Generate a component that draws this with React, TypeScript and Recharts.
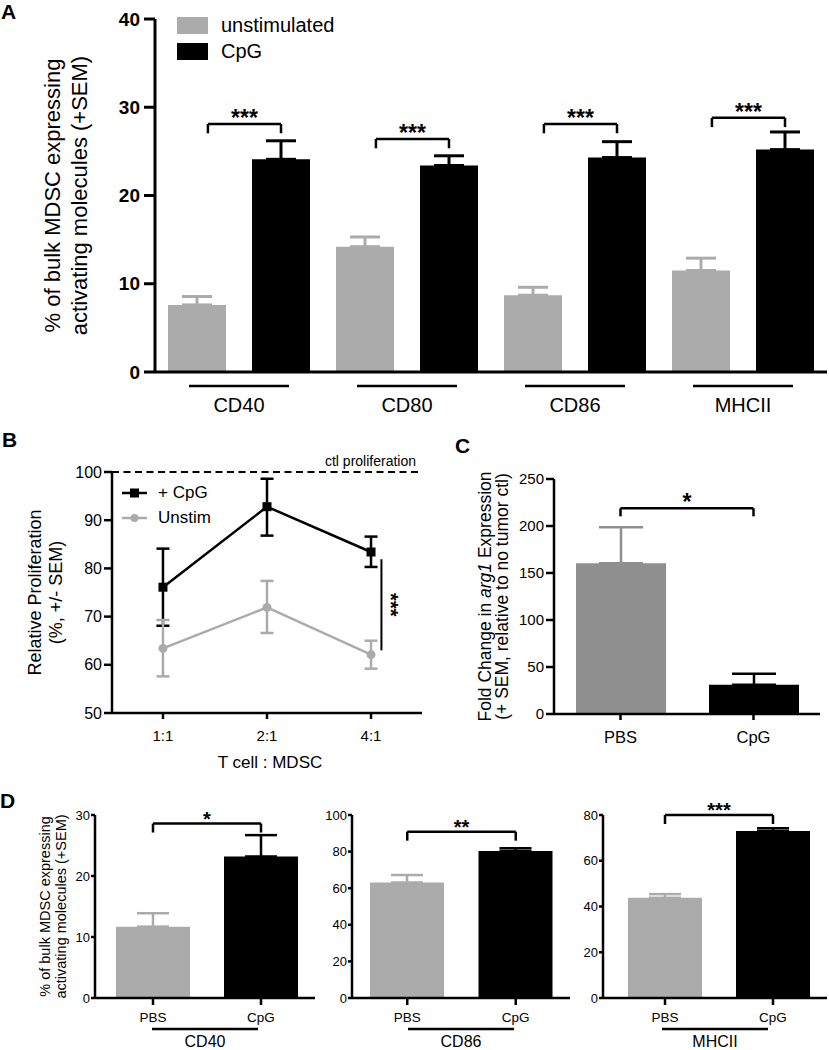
import React from 'react';
import { BarChart, Bar, LineChart, Line, XAxis, YAxis, ErrorBar, ReferenceLine, Legend } from 'recharts';

const FONT = "'Liberation Sans', Arial, Helvetica, sans-serif";
const LIGHT = '#ababab';
const MID = '#8f8f8f';
const INK = '#000000';

// A : activation markers on bulk MDSC, unstimulated vs CpG
const markersA = ['CD40', 'CD80', 'CD86', 'MHCII'];
const unstimA = [7.6, 14.2, 8.7, 11.5];
const unstimSemA = [0.95, 1.1, 0.9, 1.4];
const cpgA = [24.1, 23.4, 24.3, 25.2];
const cpgSemA = [2.1, 1.1, 1.8, 2.0];
const starsA = ['***', '***', '***', '***'];
const bracketA = [28.1, 26.4, 28.1, 28.8];

// B : relative T cell proliferation
const ratiosB = ['1:1', '2:1', '4:1'];
const cpgB = [76.1, 92.8, 83.4];
const cpgLoB = [8.0, 6.0, 3.1];
const cpgHiB = [8.0, 5.8, 3.2];
const unstimB = [63.4, 71.9, 62.1];
const unstimLoB = [5.8, 5.3, 2.9];
const unstimHiB = [5.9, 5.5, 2.9];
const ctlB = 100;
const sigB = [63.0, 81.9];

// C : arg1 fold change
const groupsC = ['PBS', 'CpG'];
const arg1C = [160.4, 31.2];
const arg1SemC = [38.3, 11.6];
const bracketC = 218.8;

// D : in vivo activation markers
const markersD = ['CD40', 'CD86', 'MHCII'];
const pbsD = [11.7, 63.1, 43.8];
const pbsSemD = [2.2, 4.1, 1.6];
const cpgD = [23.2, 80.3, 73.0];
const cpgSemD = [3.5, 1.5, 1.2];
const maxD = [30, 100, 80];
const stepD = [10, 20, 20];
const starsD = ['*', '**', '***'];
const bracketD = [28.6, 90.9, 80];

const range = (max: number, step: number) => {
  const out: number[] = [];
  for (let v = 0; v <= max + 1e-9; v += step) out.push(v);
  return out;
};

const dataA = markersA.flatMap((m, i) => [
  { pos: 2 * i, unstim: unstimA[i], unstimErr: [0, unstimSemA[i]] },
  { pos: 2 * i + 1, cpg: cpgA[i], cpgErr: [0, cpgSemA[i]] },
]);

const dataB = ratiosB.map((r, i) => ({
  x: i + 1,
  cpg: cpgB[i],
  cpgErr: [cpgLoB[i], cpgHiB[i]],
  unstim: unstimB[i],
  unstimErr: [unstimLoB[i], unstimHiB[i]],
}));

const pairRows = (vals: number[], sems: number[]) => [
  { g: groupsC[0], pbs: vals[0], pbsErr: [0, sems[0]] },
  { g: groupsC[1], cpg: vals[1], cpgErr: [0, sems[1]] },
];

const dataC = pairRows(arg1C, arg1SemC);

const axisLine = { stroke: INK, strokeWidth: 2.5 };

// rotated, multi-line axis title
const rotated = (lines: React.ReactNode[], xs: number[], fontSize: number, dy = 0) => (props: any) => {
  const vb = props.viewBox;
  const cy = vb.y + vb.height / 2 + dy;
  return (
    <g>
      {lines.map((ln, i) => (
        <text key={i} transform={`translate(${vb.x + xs[i]},${cy}) rotate(-90)`} textAnchor="middle"
          dominantBaseline="central" fontSize={fontSize} fill={INK}>{ln}</text>
      ))}
    </g>
  );
};

const bracket = (key: string, x1: any, x2: any, y: number, drop: number, text: string, fontSize: number) => [
  <ReferenceLine key={key + 'h'} segment={[{ x: x1, y }, { x: x2, y }]} stroke={INK} strokeWidth={2.5}
    label={{ value: text, position: 'top', offset: -2, fontSize, fontWeight: 'bold', fill: INK }} />,
  <ReferenceLine key={key + 'l'} segment={[{ x: x1, y }, { x: x1, y: y - drop }]} stroke={INK} strokeWidth={2.5} />,
  <ReferenceLine key={key + 'r'} segment={[{ x: x2, y }, { x: x2, y: y - drop }]} stroke={INK} strokeWidth={2.5} />,
];

const PairTick = (props: any) => {
  const { x, y, payload } = props;
  const name = markersA[Math.round((payload.value - 0.5) / 2)];
  return (
    <g>
      <line x1={x - 50} x2={x + 50} y1={y + 12} y2={y + 12} stroke={INK} strokeWidth={2.5} />
      <text x={x} y={y + 38} textAnchor="middle" fontSize={20} fill={INK}>{name}</text>
    </g>
  );
};

const orderA = ['unstim', 'cpg'];

const LegendA = (props: any) => (
  <div style={{ fontFamily: FONT }}>
    {[...props.payload]
      .sort((a: any, b: any) => orderA.indexOf(a.dataKey) - orderA.indexOf(b.dataKey))
      .map((item: any) => (
        <div key={item.value} style={{ display: 'flex', alignItems: 'center', height: 26 }}>
          <span style={{ display: 'inline-block', width: 31, height: 17, background: item.color, marginRight: 13 }} />
          <span style={{ fontSize: 20, color: INK }}>{item.value}</span>
        </div>
      ))}
  </div>
);

const LegendB = (props: any) => (
  <div style={{ fontFamily: FONT }}>
    {props.payload.map((item: any) => (
      <div key={item.value} style={{ display: 'flex', alignItems: 'center', height: 25 }}>
        <svg width={30} height={14}>
          <line x1={0} x2={25} y1={7} y2={7} stroke={item.color} strokeWidth={2.5} />
          {item.dataKey === 'cpg'
            ? <rect x={8} y={2.5} width={9} height={9} fill={item.color} />
            : <circle cx={12.5} cy={7} r={4} fill={item.color} />}
        </svg>
        <span style={{ fontSize: 17, marginLeft: 6, color: INK }}>{item.value}</span>
      </div>
    ))}
  </div>
);

const SideStars = (props: any) => {
  const vb = props.viewBox;
  return (
    <text transform={`translate(${vb.x + 3},${vb.y + vb.height / 2}) rotate(90)`} textAnchor="middle"
      fontSize={20} fontWeight="bold" fill={INK}>***</text>
  );
};

const squareDot = (props: any) => (
  <rect key={props.index} x={props.cx - 4.5} y={props.cy - 4.5} width={9} height={9} fill={INK} />
);

const layoutD = [
  { left: 0, width: 320, axis: 95, right: 5, pad: 4 },
  { left: 320, width: 260, axis: 32, right: 10, pad: 1 },
  { left: 580, width: 249, axis: 23, right: 2, pad: 8 },
];

const PanelD = ({ i }: { i: number }) => {
  const lay = layoutD[i];
  const data = pairRows([pbsD[i], cpgD[i]], [pbsSemD[i], cpgSemD[i]]);
  const drop = (maxD[i] * 9) / 183;
  return (
    <div style={{ position: 'absolute', left: lay.left, top: 800 }}>
      <BarChart width={lay.width} height={250} data={data} margin={{ top: 15, right: lay.right, left: 0, bottom: 0 }}>
        <XAxis dataKey="g" height={52} padding={{ left: lay.pad, right: 0 }} tickSize={7} tickMargin={7}
          axisLine={axisLine} tickLine={axisLine} tick={{ fill: INK, fontSize: 13.5 }}
          label={{
            content: (p: any) => {
              const vb = p.viewBox;
              const cx = vb.x + vb.width / 2;
              return (
                <g>
                  <line x1={cx - 53} x2={cx + 53} y1={vb.y + 31} y2={vb.y + 31} stroke={INK} strokeWidth={2.5} />
                  <text x={cx} y={vb.y + 49} textAnchor="middle" fontSize={16} fill={INK}>{markersD[i]}</text>
                </g>
              );
            },
          }} />
        <YAxis width={lay.axis} domain={[0, maxD[i]]} ticks={range(maxD[i], stepD[i])} tickSize={4} tickMargin={1}
          axisLine={axisLine} tickLine={axisLine} tick={{ fill: INK, fontSize: 13 }}
          label={i === 0 ? { content: rotated(['% of bulk MDSC expressing', 'activating molecules (+SEM)'], [45, 61], 14.5) } : undefined} />
        <Bar dataKey="pbs" stackId="s" fill={LIGHT} barSize={74} isAnimationActive={false}>
          <ErrorBar dataKey="pbsErr" width={16} stroke={LIGHT} strokeWidth={2.5} direction="y" />
        </Bar>
        <Bar dataKey="cpg" stackId="s" fill={INK} barSize={74} isAnimationActive={false}>
          <ErrorBar dataKey="cpgErr" width={16} stroke={INK} strokeWidth={2.5} direction="y" />
        </Bar>
        {bracket('d' + i, groupsC[0], groupsC[1], bracketD[i], drop, starsD[i], 20)}
      </BarChart>
    </div>
  );
};

export default function App() {
  return (
    <div style={{ position: 'absolute', left: 0, top: 0, width: 829, height: 1050, background: '#fff', fontFamily: FONT }}>
      {/* A */}
      <div style={{ position: 'absolute', left: 0, top: 0 }}>
        <BarChart width={829} height={425} data={dataA} margin={{ top: 19, right: 2, left: 0, bottom: 0 }}>
          <XAxis dataKey="pos" type="number" domain={[-0.5, 7.5]} ticks={[0.5, 2.5, 4.5, 6.5]} height={53}
            tickSize={0} tickLine={false} axisLine={{ stroke: INK, strokeWidth: 3 }} tick={<PairTick />} />
          <YAxis width={155} domain={[0, 40]} ticks={range(40, 10)} tickSize={11} tickMargin={4}
            axisLine={{ stroke: INK, strokeWidth: 3 }} tickLine={{ stroke: INK, strokeWidth: 3 }}
            tick={{ fill: INK, fontSize: 19, fontWeight: 'bold' }}
            label={{ content: rotated(['% of bulk MDSC expressing', 'activating molecules (+SEM)'], [52, 79], 22) }} />
          <Legend content={<LegendA />} layout="vertical" align="center" verticalAlign="middle"
            wrapperStyle={{ left: 177, top: 12, width: 'auto' }} />
          <Bar dataKey="unstim" name="unstimulated" stackId="s" fill={LIGHT} barSize={58} isAnimationActive={false}>
            <ErrorBar dataKey="unstimErr" width={15} stroke={LIGHT} strokeWidth={3} direction="y" />
          </Bar>
          <Bar dataKey="cpg" name="CpG" stackId="s" fill={INK} barSize={58} isAnimationActive={false}>
            <ErrorBar dataKey="cpgErr" width={15} stroke={INK} strokeWidth={3} direction="y" />
          </Bar>
          {markersA.map((m, i) => bracket('a' + i, 2 * i + 0.13, 2 * i + 1, bracketA[i], 1.05, starsA[i], 23))}
        </BarChart>
      </div>

      {/* B */}
      <div style={{ position: 'absolute', left: 0, top: 440 }}>
        <LineChart width={440} height={335} data={dataB} margin={{ top: 32, right: 18, left: 0, bottom: 0 }}>
          <XAxis dataKey="x" type="number" domain={[0.51, 3.49]} ticks={[1, 2, 3]}
            tickFormatter={(v: number) => ratiosB[v - 1]} height={62} tickSize={6} tickMargin={11}
            axisLine={axisLine} tickLine={axisLine} tick={{ fill: INK, fontSize: 15 }}
            label={{
              content: (p: any) => (
                <text x={p.viewBox.x + p.viewBox.width / 2 + 3} y={p.viewBox.y + 55} textAnchor="middle" fontSize={17} fill={INK}>
                  T cell : MDSC
                </text>
              ),
            }} />
          <YAxis width={112} domain={[50, 100]} ticks={[50, 60, 70, 80, 90, 100]} tickSize={8} tickMargin={2}
            axisLine={axisLine} tickLine={axisLine} tick={{ fill: INK, fontSize: 16 }}
            label={{ content: rotated(['Relative Proliferation', '(%, +/- SEM)'], [35, 56], 18) }} />
          <ReferenceLine y={ctlB} stroke={INK} strokeDasharray="7 4.5" strokeWidth={2}
            label={{ value: 'ctl proliferation', position: 'insideBottomRight', offset: 6, fontSize: 14, fill: INK }} />
          <Line dataKey="cpg" name="+ CpG" stroke={INK} strokeWidth={2.5} dot={squareDot} isAnimationActive={false}>
            <ErrorBar dataKey="cpgErr" width={6.5} stroke={INK} strokeWidth={2.5} direction="y" />
          </Line>
          <Line dataKey="unstim" name="Unstim" stroke={LIGHT} strokeWidth={2.5}
            dot={{ r: 4.5, fill: LIGHT, stroke: LIGHT, strokeWidth: 0 }} isAnimationActive={false}>
            <ErrorBar dataKey="unstimErr" width={6.5} stroke={LIGHT} strokeWidth={2.5} direction="y" />
          </Line>
          <ReferenceLine segment={[{ x: 3.1, y: sigB[0] }, { x: 3.1, y: sigB[1] }]} stroke={INK} strokeWidth={2}
            label={{ content: SideStars }} />
          <Legend content={<LegendB />} layout="vertical" align="center" verticalAlign="middle"
            wrapperStyle={{ left: 122, top: 40, width: 'auto' }} />
        </LineChart>
      </div>

      {/* C */}
      <div style={{ position: 'absolute', left: 440, top: 440 }}>
        <BarChart width={389} height={335} data={dataC} margin={{ top: 39, right: 9, left: 0, bottom: 0 }}>
          <XAxis dataKey="g" height={61} tickSize={6} tickMargin={11} axisLine={axisLine} tickLine={axisLine}
            tick={{ fill: INK, fontSize: 16.5 }} />
          <YAxis width={114} domain={[0, 250]} ticks={range(250, 50)} tickSize={8} tickMargin={2}
            axisLine={axisLine} tickLine={axisLine} tick={{ fill: INK, fontSize: 15 }}
            label={{
              content: rotated([
                <>Fold Change in <tspan fontStyle="italic">arg1</tspan> Expression</>,
                '(+ SEM, relative to no tumor ctl)',
              ], [45, 62], 17.5),
            }} />
          <Bar dataKey="pbs" stackId="s" fill={MID} barSize={90} isAnimationActive={false}>
            <ErrorBar dataKey="pbsErr" width={22} stroke={MID} strokeWidth={2.5} direction="y" />
          </Bar>
          <Bar dataKey="cpg" stackId="s" fill={INK} barSize={90} isAnimationActive={false}>
            <ErrorBar dataKey="cpgErr" width={22} stroke={INK} strokeWidth={2.5} direction="y" />
          </Bar>
          {bracket('c', groupsC[0], groupsC[1], bracketC, 8.5, '*', 23)}
        </BarChart>
      </div>

      {/* D */}
      {markersD.map((m, i) => <PanelD key={m} i={i} />)}

      <svg width={829} height={1050} style={{ position: 'absolute', left: 0, top: 0, pointerEvents: 'none' }}>
        <g fontWeight="bold" fontSize={21} fill={INK}>
          <text x={1} y={19}>A</text>
          <text x={2} y={447}>B</text>
          <text x={455} y={453}>C</text>
          <text x={0} y={808}>D</text>
        </g>
      </svg>
    </div>
  );
}
